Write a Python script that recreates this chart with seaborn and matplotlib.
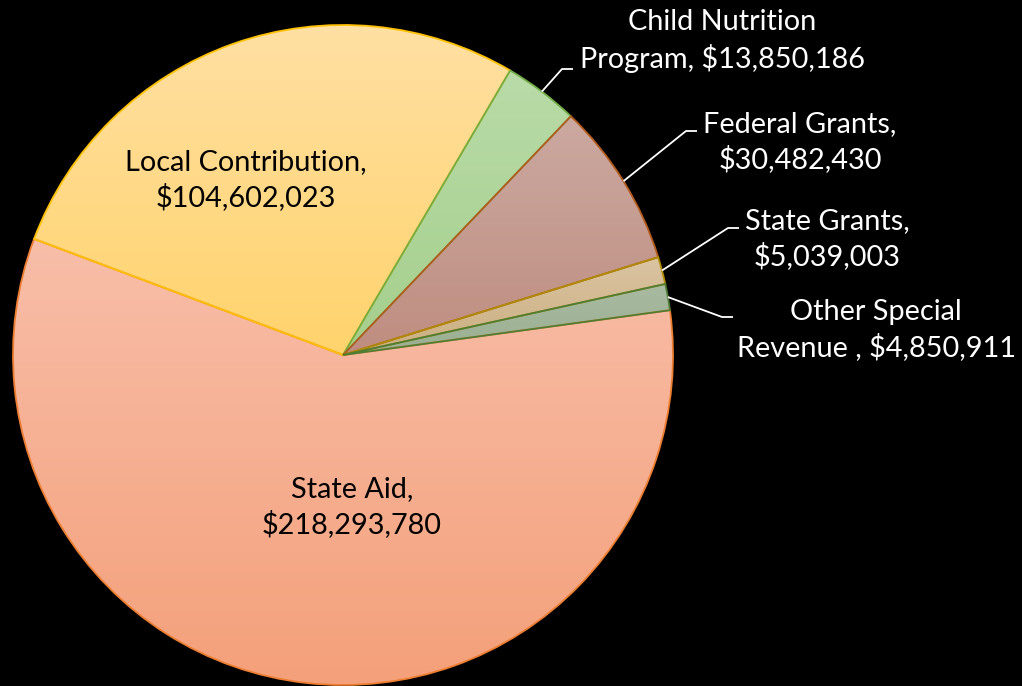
import numpy as np
import matplotlib
matplotlib.use("Agg")
import matplotlib.pyplot as plt
from matplotlib.colors import LinearSegmentedColormap
import seaborn as sns

# Revenue sources (clockwise order, starting at the right-hand edge)
categories = ["State Aid", "Local Contribution", "Child Nutrition\nProgram",
              "Federal Grants", "State Grants", "Other Special\nRevenue "]
amounts = [218293780, 104602023, 13850186, 30482430, 5039003, 4850911]

# Gradient fills (top colour, bottom colour) and outline colours
fill_top = ["#F8BEA9", "#FFE0A3", "#B9DBA8", "#CBA9A1", "#DAC4A2", "#A9BAA1"]
fill_bottom = ["#F4A07A", "#FFD36C", "#A5CF8C", "#BF8D80", "#CBAE80", "#9AAF91"]
edge_colors = ["#ED7D31", "#FFC000", "#70AD47", "#B35A1C", "#B08A00", "#4F7D33"]

sns.set_style("dark", {"axes.facecolor": "black", "figure.facecolor": "black"})
plt.rcParams["font.family"] = ["Lato", "DejaVu Sans"]

W, H = 1022, 686
CX, CY, R = 343, 355, 330  # pie centre / radius in pixels


def px(x, y):
    """Pixel position -> data coordinates (pie radius = 1)."""
    return (x - CX) / R, (CY - y) / R


fig = plt.figure(figsize=(W / 100, H / 100), dpi=100)
ax = fig.add_axes([0, 0, 1, 1])
ax.set_facecolor("black")
ax.set_xlim(-CX / R, (W - CX) / R)
ax.set_ylim(-(H - CY) / R, CY / R)
ax.set_axis_off()

start = 90 - 82.2
wedges, _ = ax.pie(amounts, startangle=start, counterclock=False, radius=1,
                   colors=fill_bottom, wedgeprops=dict(linewidth=0))

# Vertical gradient inside each slice
grad = np.linspace(0, 1, 256).reshape(-1, 1)
for w, top, bot in zip(wedges, fill_top, fill_bottom):
    ext = w.get_path().get_extents()
    cmap = LinearSegmentedColormap.from_list("g", [top, bot])
    im = ax.imshow(grad, cmap=cmap, aspect="auto", origin="upper",
                   extent=(ext.x0, ext.x1, ext.y0, ext.y1), zorder=2,
                   interpolation="bilinear")
    im.set_clip_path(w)

# Outlines on top of the gradients
outl, _ = ax.pie(amounts, startangle=start, counterclock=False, radius=1,
                 colors=["none"] * len(amounts),
                 wedgeprops=dict(linewidth=1.3, zorder=3))
for w, ec in zip(outl, edge_colors):
    w.set_edgecolor(ec)
    w.set_facecolor("none")
    w.set_zorder(3)

ax.set_xlim(-CX / R, (W - CX) / R)
ax.set_ylim(-(H - CY) / R, CY / R)
ax.set_aspect("auto")


def label_text(name, value):
    sep = ", " if "\n" in name else ",\n"
    return f"{name}{sep}${value:,}"


# Label placement: (text centre px, elbow px or None, text colour)
placements = [
    ((352, 507), None, "black"),
    ((246, 180), None, "black"),
    ((722, 41), ((562, 69), (573, 69)), "white"),
    ((800, 142), ((686, 131), (697, 131)), "white"),
    ((827, 239), ((728, 228), (739, 228)), "white"),
    ((876, 330), ((722, 317), (733, 317)), "white"),
]

for w, name, val, (pos, elbow, col) in zip(wedges, categories, amounts, placements):
    tx, ty = px(*pos)
    ax.text(tx, ty, label_text(name, val), ha="center", va="center",
            fontsize=20.8, color=col, linespacing=1.36, zorder=5)
    if elbow is not None:
        mid = np.deg2rad((w.theta1 + w.theta2) / 2)
        x0, y0 = np.cos(mid), np.sin(mid)
        (ex, ey), (hx, hy) = px(*elbow[0]), px(*elbow[1])
        ax.plot([x0, ex, hx], [y0, ey, hy], color="white", lw=1.3,
                zorder=4, solid_capstyle="butt")

fig.savefig("out.png", dpi=100, facecolor="black")
